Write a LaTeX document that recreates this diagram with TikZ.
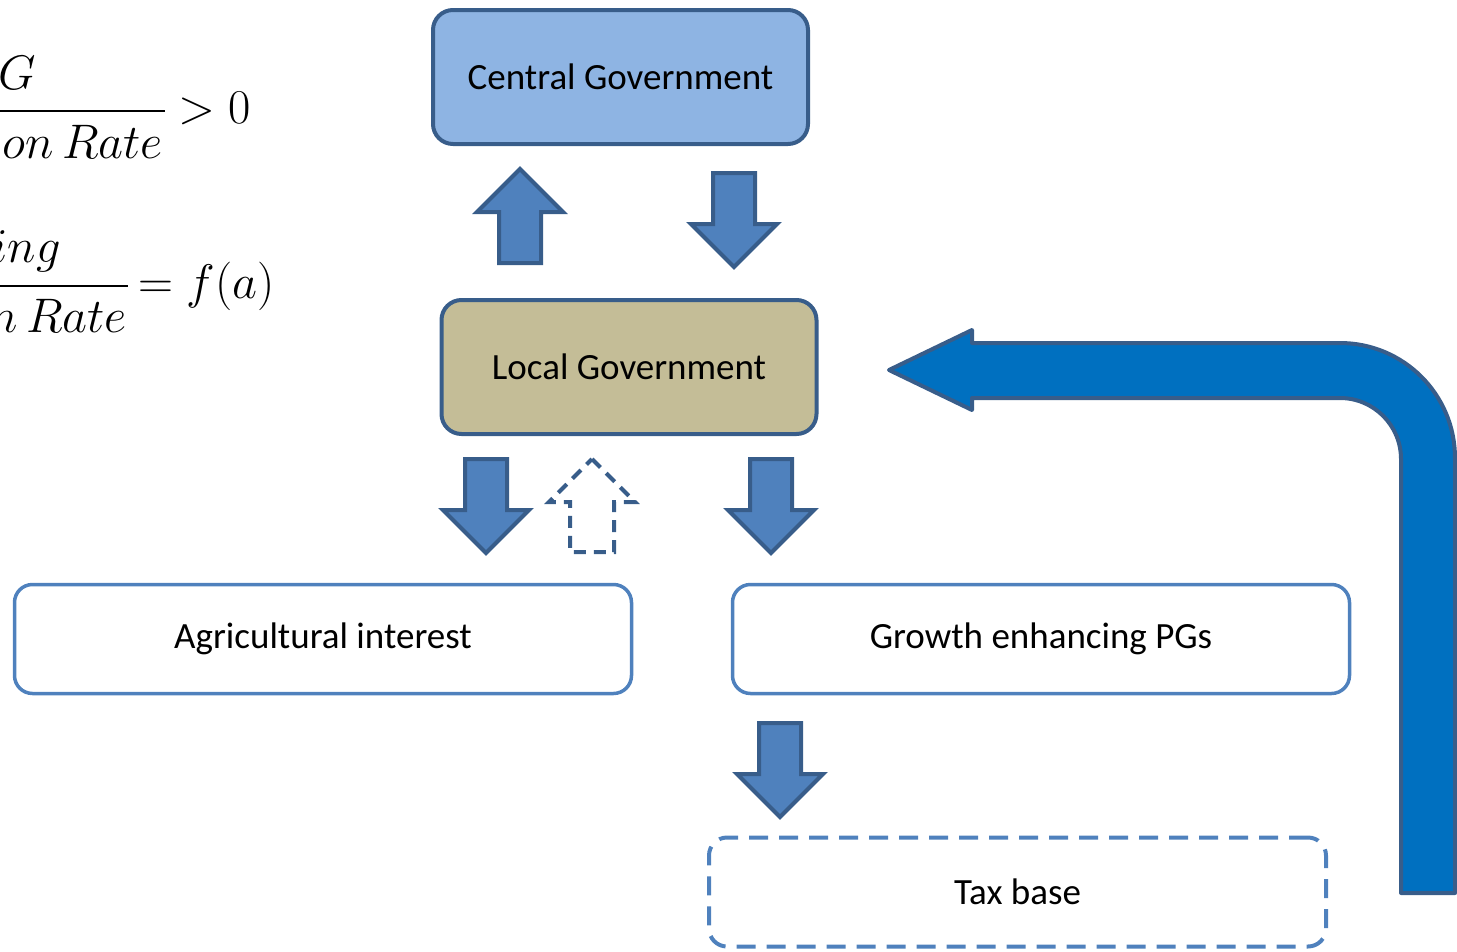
\documentclass[tikz,border=0pt]{standalone}
\usepackage{graphicx}
\usepackage{fontspec}
\setmainfont{Carlito}

\definecolor{govblue}{HTML}{8EB4E3}
\definecolor{localtan}{HTML}{C4BD97}
\definecolor{edgeblue}{HTML}{385D8A}
\definecolor{boxblue}{HTML}{4F81BD}
\definecolor{bigblue}{HTML}{0070C0}

\newcommand{\bigmath}[1]{\scalebox{1.95}{\Huge$#1$}}

\tikzset{
    govbox/.style={draw=edgeblue,line width=4pt,rounded corners=20pt,minimum width=375pt,minimum height=134pt,font=\fontsize{37}{44}\selectfont},
    groupbox/.style={draw=boxblue,line width=3.5pt,rounded corners=18pt,minimum width=617pt,minimum height=109pt,font=\fontsize{37}{44}\selectfont},
    mathtext/.style={inner sep=0pt},
    solidblock/.pic={\draw[fill=boxblue,draw=edgeblue,line width=4pt] (0,0)--(-43,-43)--(-21,-43)--(-21,-94)--(21,-94)--(21,-43)--(43,-43)--cycle;},
    hollowblock/.pic={\draw[draw=edgeblue,line width=4pt,dash pattern=on 12pt off 8pt] (0,0)--(-43,-43)--(-22,-43)--(-22,-93)--(22,-93)--(22,-43)--(43,-43)--cycle;}
}

\begin{document}
\begin{tikzpicture}[x=1pt,y=-1pt]
        \useasboundingbox(0,0)rectangle(1457,951);

        % the two fractions, cut at the left edge
        \node[mathtext](gnum)at(17,73){\bigmath{G}};
        \draw[line width=2.5pt](0,111)--(165,111);
        \node[mathtext,anchor=base east](gden)at(163,158){\bigmath{on\,Rate}};
        \node[mathtext,anchor=west](gsign)at(178,109){\bigmath{>0}};

        \node[mathtext,anchor=base east](snum)at(61,262){\bigmath{ing}};
        \draw[line width=2.5pt](0,286)--(128,286);
        \node[mathtext,anchor=base east](sden)at(127,332){\bigmath{n\,Rate}};
        \node[mathtext,anchor=west](ssign)at(138,286){\bigmath{=f(a)}};

        % boxes
        \node[govbox,fill=govblue](central)at(620.5,77){Central Government};
        \node[govbox,fill=localtan](local)at(629,367){Local Government};
        \node[groupbox](agri)at(323,639){Agricultural interest};
        \node[groupbox](growth)at(1041,639){Growth enhancing PGs};
        \node[groupbox,line width=4pt,dash pattern=on 19pt off 11pt](taxbase)at(1017.5,892){Tax base};

        % block arrows
        \pic[rotate=180](lgup)at(520,169){solidblock};
        \pic(cgdown)at(734,267){solidblock};
        \pic(agdown)at(486,553){solidblock};
        \pic[rotate=180](agup)at(592,459){hollowblock};
        \pic(pgdown)at(771,553){solidblock};
        \pic(taxdown)at(780,817){solidblock};

        % feedback from the tax base
        \draw[fill=bigblue,draw=edgeblue,line width=4pt,line join=round](889,370)--(972,330)--(972,343)--(1340,343)arc(-90:0:115)--(1455,893)--(1401,893)--(1401,459)arc(0:-90:61)--(972,398)--(972,410)--cycle;
    \end{tikzpicture}
\end{document}
